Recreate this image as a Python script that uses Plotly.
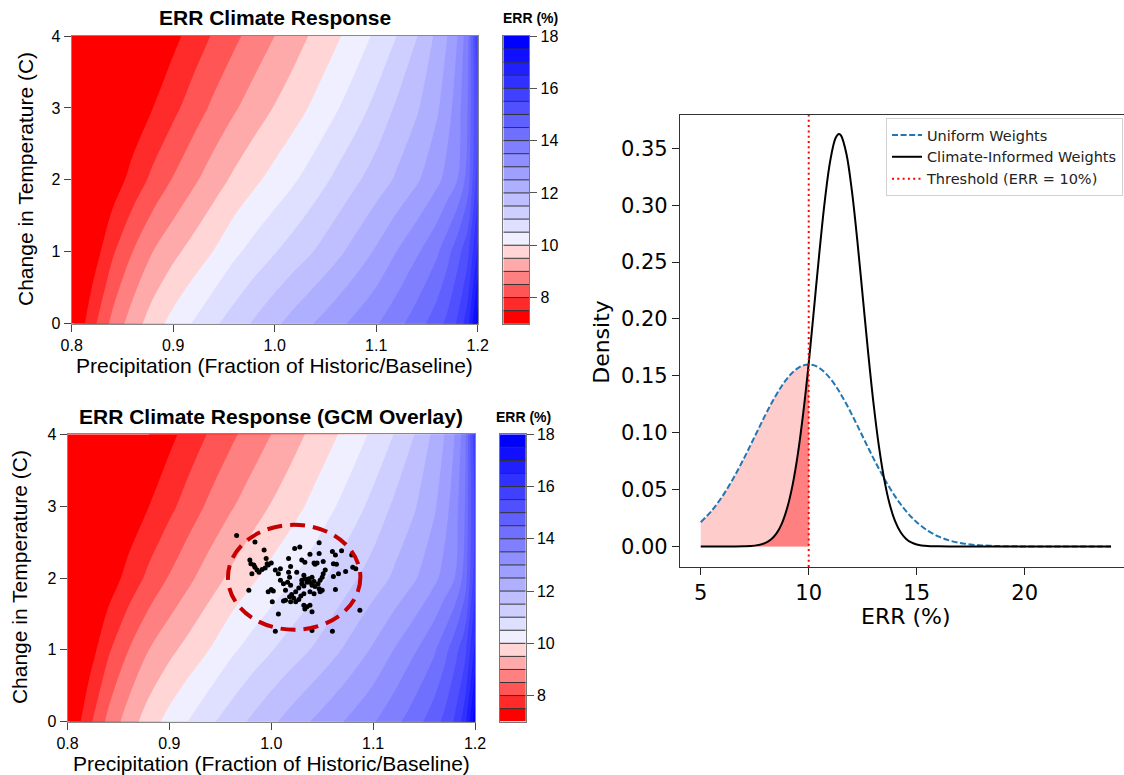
import plotly.graph_objects as go

W, H = 1124, 775

# ---------------- data: ERR climate response surface ----------------
PRECIP = [0.80, 0.82, 0.84, 0.86, 0.88, 0.90, 0.92, 0.94, 0.96, 0.98, 1.00, 1.02,
          1.04, 1.06, 1.08, 1.10, 1.12, 1.14, 1.16, 1.17, 1.18, 1.19, 1.20]
TEMP = [0, 1, 2, 3, 4]
ERR_T0 = [6.90, 7.83, 8.63, 9.25, 9.76, 10.18, 10.54, 10.91, 11.24, 11.57, 11.90, 12.22,
          12.53, 12.83, 13.14, 13.45, 13.83, 14.26, 14.79, 15.13, 15.56, 16.30, 17.80]
ERR_T1 = [6.57, 7.19, 7.92, 8.50, 9.00, 9.37, 9.70, 10.02, 10.39, 10.69, 10.97, 11.25,
          11.53, 11.85, 12.20, 12.57, 13.00, 13.43, 13.93, 14.32, 14.80, 15.33, 16.60]
ERR_T2 = [6.15, 6.70, 7.21, 7.68, 8.13, 8.54, 8.91, 9.27, 9.60, 9.90, 10.18, 10.46,
          10.77, 11.10, 11.42, 11.74, 12.07, 12.43, 12.88, 13.17, 13.50, 14.20, 15.80]
ERR_T3 = [6.06, 6.42, 6.78, 7.14, 7.50, 7.87, 8.25, 8.61, 8.94, 9.24, 9.53, 9.81,
          10.11, 10.44, 10.78, 11.15, 11.57, 11.94, 12.43, 12.79, 13.25, 14.00, 15.60]
ERR_T4 = [5.56, 5.92, 6.28, 6.64, 7.00, 7.36, 7.71, 8.06, 8.39, 8.70, 9.00, 9.30,
          9.61, 9.91, 10.24, 10.60, 11.00, 11.48, 12.12, 12.50, 13.00, 13.80, 16.00]

CB_LEVELS = [7.0, 7.5, 8.0, 8.5, 9.0, 9.5, 10.0, 10.5, 11.0, 11.5, 12.0, 12.5,
             13.0, 13.5, 14.0, 14.5, 15.0, 15.5, 16.0, 16.5, 17.0, 17.5, 18.0]
BAND_COLORS = ["#FF0000", "#FF2B2B", "#FF5555", "#FF8080", "#FFAAAA", "#FFD5D5",
               "#EFEFFF", "#DFDFFF", "#CFCFFF", "#BFBFFF", "#AFAFFF", "#9F9FFF",
               "#8F8FFF", "#8080FF", "#7070FF", "#6060FF", "#5050FF", "#4040FF",
               "#3030FF", "#2020FF", "#1010FF", "#0000FF"]
CB_TICKS = [8, 10, 12, 14, 16, 18]
P_TICKS = [0.8, 0.9, 1.0, 1.1, 1.2]
T_TICKS = [0, 1, 2, 3, 4]

# GCM projections (precipitation fraction, temperature change)
GCM_P = [0.966, 0.984, 0.993, 1.023, 1.028, 1.047, 1.038, 1.047, 1.060, 1.063,
         1.069, 1.079, 0.979, 0.980, 0.983, 0.984, 0.981, 0.986, 0.988, 0.991,
         0.994, 0.996, 0.997, 1.000, 0.995, 1.017, 1.004, 1.009, 1.019, 1.017,
         1.018, 1.016, 1.019, 1.007, 1.009, 1.012, 1.014, 1.030, 1.033, 1.042,
         1.045, 1.043, 1.051, 1.061, 1.064, 1.053, 1.051, 1.050, 1.066, 1.073,
         1.061, 1.080, 1.083, 1.025, 1.032, 1.033, 1.030, 1.030, 1.032, 1.035,
         1.037, 1.038, 1.040, 1.042, 1.040, 1.043, 1.046, 1.048, 1.047, 1.050,
         1.048, 0.978, 1.000, 0.997, 1.002, 1.027, 1.024, 1.020, 1.022, 1.018,
         1.014, 1.012, 1.019, 1.024, 1.027, 1.029, 1.032, 1.038, 1.042, 1.001,
         1.032, 1.033, 1.035, 1.040, 1.038, 1.063, 1.007, 1.004, 1.040, 1.060, 1.087]
GCM_T = [2.59, 2.50, 2.39, 2.41, 2.43, 2.49, 2.33, 2.34, 2.37, 2.32,
         2.38, 2.32, 2.25, 2.20, 2.18, 2.15, 2.06, 2.11, 2.08, 2.12,
         2.14, 2.20, 2.18, 2.21, 2.27, 2.27, 2.11, 2.13, 2.16, 2.08,
         2.01, 1.94, 1.90, 2.06, 1.97, 1.92, 1.83, 2.25, 2.22, 2.21,
         2.21, 2.19, 2.23, 2.20, 2.19, 2.11, 2.06, 2.01, 2.06, 2.09,
         2.02, 2.15, 2.13, 2.08, 2.04, 1.99, 1.97, 1.92, 1.89, 1.94,
         1.99, 1.94, 2.01, 1.95, 1.90, 1.88, 1.92, 1.97, 1.85, 1.83,
         1.81, 1.83, 1.84, 1.81, 1.82, 1.86, 1.81, 1.77, 1.72, 1.74,
         1.69, 1.68, 1.67, 1.67, 1.70, 1.75, 1.78, 1.81, 1.78, 1.67,
         1.62, 1.57, 1.60, 1.53, 1.62, 1.84, 1.50, 1.26, 1.27, 1.26, 1.55]
GCM_ELLIPSE_CENTER = (1.0225, 2.01)
GCM_ELLIPSE_RADII = (0.065, 0.73)

# ---------------- data: ERR densities ----------------
ERR_X = [5.0, 5.5, 6.0, 6.5, 7.0, 7.5, 8.0, 8.25, 8.5, 8.75, 9.0, 9.25, 9.5, 9.75, 10.0,
         10.25, 10.5, 10.75, 11.0, 11.25, 11.4, 11.5, 11.75, 12.0, 12.25, 12.5, 12.75,
         13.0, 13.25, 13.5, 13.75, 14.0, 14.25, 14.5, 14.75, 15.0, 15.5, 16.0, 16.5,
         17.0, 17.5, 18.0, 18.5, 19.0, 19.5, 20.0, 21.0, 22.0, 23.0, 24.0]
UNIFORM = [0.0213, 0.0312, 0.0440, 0.0596, 0.0774, 0.0966, 0.1159, 0.1250, 0.1334,
           0.1411, 0.1476, 0.1529, 0.1568, 0.1592, 0.1600, 0.1592, 0.1568, 0.1529,
           0.1476, 0.1411, 0.1366, 0.1334, 0.1250, 0.1159, 0.1064, 0.0966, 0.0869,
           0.0774, 0.0683, 0.0596, 0.0515, 0.0440, 0.0373, 0.0312, 0.0259, 0.0213,
           0.0140, 0.0088, 0.0053, 0.0031, 0.0017, 0.0009, 0.0005, 0.0002, 0.0001,
           0.0, 0.0, 0.0, 0.0, 0.0]
CLIMATE = [0.0, 0.0, 0.0, 0.0, 0.0001, 0.0007, 0.0031, 0.0060, 0.0112, 0.0199,
           0.0336, 0.0537, 0.0816, 0.1178, 0.1610, 0.2100, 0.2596, 0.3046, 0.3395,
           0.3593, 0.3627, 0.3612, 0.3448, 0.3126, 0.2691, 0.2200, 0.1708, 0.1259,
           0.0882, 0.0587, 0.0370, 0.0222, 0.0127, 0.0068, 0.0035, 0.0017, 0.0003,
           0.0001, 0.0, 0.0, 0.0, 0.0, 0.0, 0.0, 0.0, 0.0, 0.0, 0.0, 0.0, 0.0]
THRESHOLD = 10.0
DENS_XRANGE = [4.04, 24.6]
DENS_YRANGE = [-0.0181, 0.3798]
DENS_XTICKS = [5, 10, 15, 20]
DENS_YTICKS = [0.0, 0.05, 0.10, 0.15, 0.20, 0.25, 0.30, 0.35]

# ---------------- helpers ----------------
def px(x):
    return x / W

def py(y):
    return 1 - y / H

ERR_GRID = [ERR_T0, ERR_T1, ERR_T2, ERR_T3, ERR_T4]

size = CB_LEVELS[1] - CB_LEVELS[0]
nc = len(CB_LEVELS)
zlo = CB_LEVELS[0] - size / 2
zhi = zlo + nc * size


def frac(v):
    return (v - zlo) / (zhi - zlo)


colorscale = []
nb = len(BAND_COLORS)
for k, c in enumerate(BAND_COLORS):
    lo = 0.0 if k == 0 else frac(CB_LEVELS[k])
    hi = 1.0 if k == nb - 1 else frac(CB_LEVELS[k + 1])
    colorscale.append([lo, c])
    colorscale.append([hi, c])

band_mids = [(CB_LEVELS[k] + CB_LEVELS[k + 1]) / 2 for k in range(nb)]

ARIAL = "Liberation Sans, Arial, sans-serif"
DEJAVU = "DejaVu Sans, sans-serif"

fig = go.Figure()

panels = [
    # (xaxis, yaxis, cb xaxis, cb yaxis, x domain px, y domain px, cb x domain px)
    ("x", "y", "x2", "y2", (71.7, 477.7), (36.0, 323.7), (503.3, 529.3)),
    ("x3", "y3", "x4", "y4", (67.5, 475.0), (434.3, 721.7), (500.0, 525.7)),
]

layout_axes = {}
for xa, ya, cxa, cya, xd, yd, cxd in panels:
    fig.add_trace(go.Contour(
        x=PRECIP, y=TEMP, z=ERR_GRID,
        autocontour=False,
        contours=dict(start=CB_LEVELS[0], end=CB_LEVELS[-1], size=size,
                      coloring="fill", showlines=False),
        line=dict(width=0, smoothing=1),
        colorscale=colorscale, showscale=False,
        xaxis=xa, yaxis=ya, hoverinfo="skip"))
    fig.add_trace(go.Heatmap(
        x=[0, 1], y=CB_LEVELS, z=[[m] for m in band_mids],
        colorscale=colorscale, zmin=zlo, zmax=zhi, showscale=False,
        xaxis=cxa, yaxis=cya, hoverinfo="skip"))
    lx, ly = [], []
    for lev in CB_LEVELS[1:-1]:
        lx += [0, 1, None]
        ly += [lev, lev, None]
    fig.add_trace(go.Scatter(x=lx, y=ly, mode="lines",
                             line=dict(color="#333333", width=1),
                             xaxis=cxa, yaxis=cya, showlegend=False, hoverinfo="skip"))

    ydom = [py(yd[1]), py(yd[0])]
    xkey = "xaxis" if xa == "x" else "xaxis" + xa[1:]
    ykey = "yaxis" if ya == "y" else "yaxis" + ya[1:]
    layout_axes[xkey] = dict(
        domain=[px(xd[0]), px(xd[1])], range=[P_TICKS[0], P_TICKS[-1]], anchor=ya,
        tickvals=P_TICKS, tickformat=".1f", ticks="outside", ticklen=7,
        tickcolor="#444444", showline=True, linecolor="#888888", linewidth=1,
        mirror=True, showgrid=False, zeroline=False,
        tickfont=dict(family=ARIAL, size=16, color="black"))
    layout_axes[ykey] = dict(
        domain=ydom, range=[T_TICKS[0], T_TICKS[-1]], anchor=xa,
        tickvals=T_TICKS, ticks="outside", ticklen=7, tickcolor="#444444",
        showline=True, linecolor="#888888", linewidth=1, mirror=True,
        showgrid=False, zeroline=False,
        tickfont=dict(family=ARIAL, size=16, color="black"))
    cxkey = "xaxis" + cxa[1:]
    cykey = "yaxis" + cya[1:]
    layout_axes[cxkey] = dict(
        domain=[px(cxd[0]), px(cxd[1])], range=[0, 1], anchor=cya,
        showticklabels=False, ticks="", showline=True, linecolor="#777777",
        linewidth=1, mirror=True, showgrid=False, zeroline=False, fixedrange=True)
    layout_axes[cykey] = dict(
        domain=ydom, range=[CB_LEVELS[0], CB_LEVELS[-1]], anchor=cxa, side="right",
        tickvals=CB_TICKS, ticks="outside", ticklen=7, tickcolor="#555555",
        showline=True, linecolor="#777777", linewidth=1, mirror=True,
        showgrid=False, zeroline=False,
        tickfont=dict(family=ARIAL, size=16, color="black"))

# GCM dots on the bottom panel
fig.add_trace(go.Scatter(x=GCM_P, y=GCM_T, mode="markers",
                         marker=dict(color="black", size=5),
                         xaxis="x3", yaxis="y3", showlegend=False, hoverinfo="skip"))

# ---------------- density panel ----------------
x10 = [x for x in ERR_X if x <= THRESHOLD]
u10 = [u for x, u in zip(ERR_X, UNIFORM) if x <= THRESHOLD]
c10 = [c for x, c in zip(ERR_X, CLIMATE) if x <= THRESHOLD]

fig.add_trace(go.Scatter(x=x10, y=u10, mode="lines", fill="tozeroy",
                         fillcolor="#FFCCCC", line=dict(width=0, shape="spline"),
                         xaxis="x5", yaxis="y5", showlegend=False, hoverinfo="skip"))
fig.add_trace(go.Scatter(x=x10, y=c10, mode="lines", fill="tozeroy",
                         fillcolor="#FF8080", line=dict(width=0, shape="spline"),
                         xaxis="x5", yaxis="y5", showlegend=False, hoverinfo="skip"))
fig.add_trace(go.Scatter(x=ERR_X, y=UNIFORM, mode="lines", name="Uniform Weights",
                         line=dict(color="#1f77b4", width=2, dash="6px,2.6px", shape="spline"),
                         xaxis="x5", yaxis="y5"))
fig.add_trace(go.Scatter(x=ERR_X, y=CLIMATE, mode="lines", name="Climate-Informed Weights",
                         line=dict(color="black", width=2, shape="spline"),
                         xaxis="x5", yaxis="y5"))
fig.add_trace(go.Scatter(x=[THRESHOLD, THRESHOLD], y=DENS_YRANGE, mode="lines",
                         name="Threshold (ERR = 10%)",
                         line=dict(color="red", width=2, dash="2px,3.3px"),
                         xaxis="x5", yaxis="y5"))

layout_axes["xaxis5"] = dict(
    domain=[px(680), 1.0], range=DENS_XRANGE, anchor="y5",
    tickvals=DENS_XTICKS, ticks="outside", ticklen=7, tickcolor="#222222",
    showline=True, linecolor="#333333", linewidth=1.2, mirror=True,
    showgrid=False, zeroline=False,
    tickfont=dict(family=DEJAVU, size=21, color="black"))
layout_axes["yaxis5"] = dict(
    domain=[py(567), py(114.5)], range=DENS_YRANGE, anchor="x5",
    tickvals=DENS_YTICKS, tickformat=".2f", ticks="outside", ticklen=7,
    tickcolor="#222222", showline=True, linecolor="#333333", linewidth=1.2,
    mirror=False, showgrid=False, zeroline=False,
    tickfont=dict(family=DEJAVU, size=21, color="black"))

# ---------------- text ----------------
def ann(text, x, y, size, family, angle=0, bold=False):
    return dict(text=("<b>%s</b>" % text) if bold else text,
                x=px(x), y=py(y), xref="paper", yref="paper",
                xanchor="center", yanchor="middle", showarrow=False,
                textangle=angle, font=dict(family=family, size=size, color="black"))

annotations = [
    ann("ERR Climate Response", 274.7, 18, 21, ARIAL, bold=True),
    ann("Precipitation (Fraction of Historic/Baseline)", 274.7, 365, 21, ARIAL),
    ann("Change in Temperature (C)", 25, 179, 21, ARIAL, angle=-90),
    ann("ERR (%)", 530, 18, 14, ARIAL, bold=True),
    ann("ERR Climate Response (GCM Overlay)", 271.2, 416.7, 21, ARIAL, bold=True),
    ann("Precipitation (Fraction of Historic/Baseline)", 271.2, 763, 21, ARIAL),
    ann("Change in Temperature (C)", 19.6, 577.5, 21, ARIAL, angle=-90),
    ann("ERR (%)", 523, 416.7, 14, ARIAL, bold=True),
    ann("Density", 600.8, 342, 22, DEJAVU, angle=-90),
    ann("ERR (%)", 906, 616, 22, DEJAVU),
]

cx, cy = GCM_ELLIPSE_CENTER
rx, ry = GCM_ELLIPSE_RADII
shapes = [dict(type="circle", xref="x3", yref="y3",
               x0=cx - rx, x1=cx + rx, y0=cy - ry, y1=cy + ry,
               line=dict(color="#C40000", width=4, dash="15px,8px"))]

fig.update_layout(
    width=W, height=H,
    margin=dict(l=0, r=0, t=0, b=0, autoexpand=False),
    paper_bgcolor="white", plot_bgcolor="white",
    annotations=annotations, shapes=shapes,
    legend=dict(x=px(886), y=py(118), xanchor="left", yanchor="top",
                font=dict(family=DEJAVU, size=14.5, color="#222222"),
                bgcolor="rgba(255,255,255,0.85)", bordercolor="#d0d0d0",
                borderwidth=1),
    **layout_axes,
)

fig.write_html("out.html")
